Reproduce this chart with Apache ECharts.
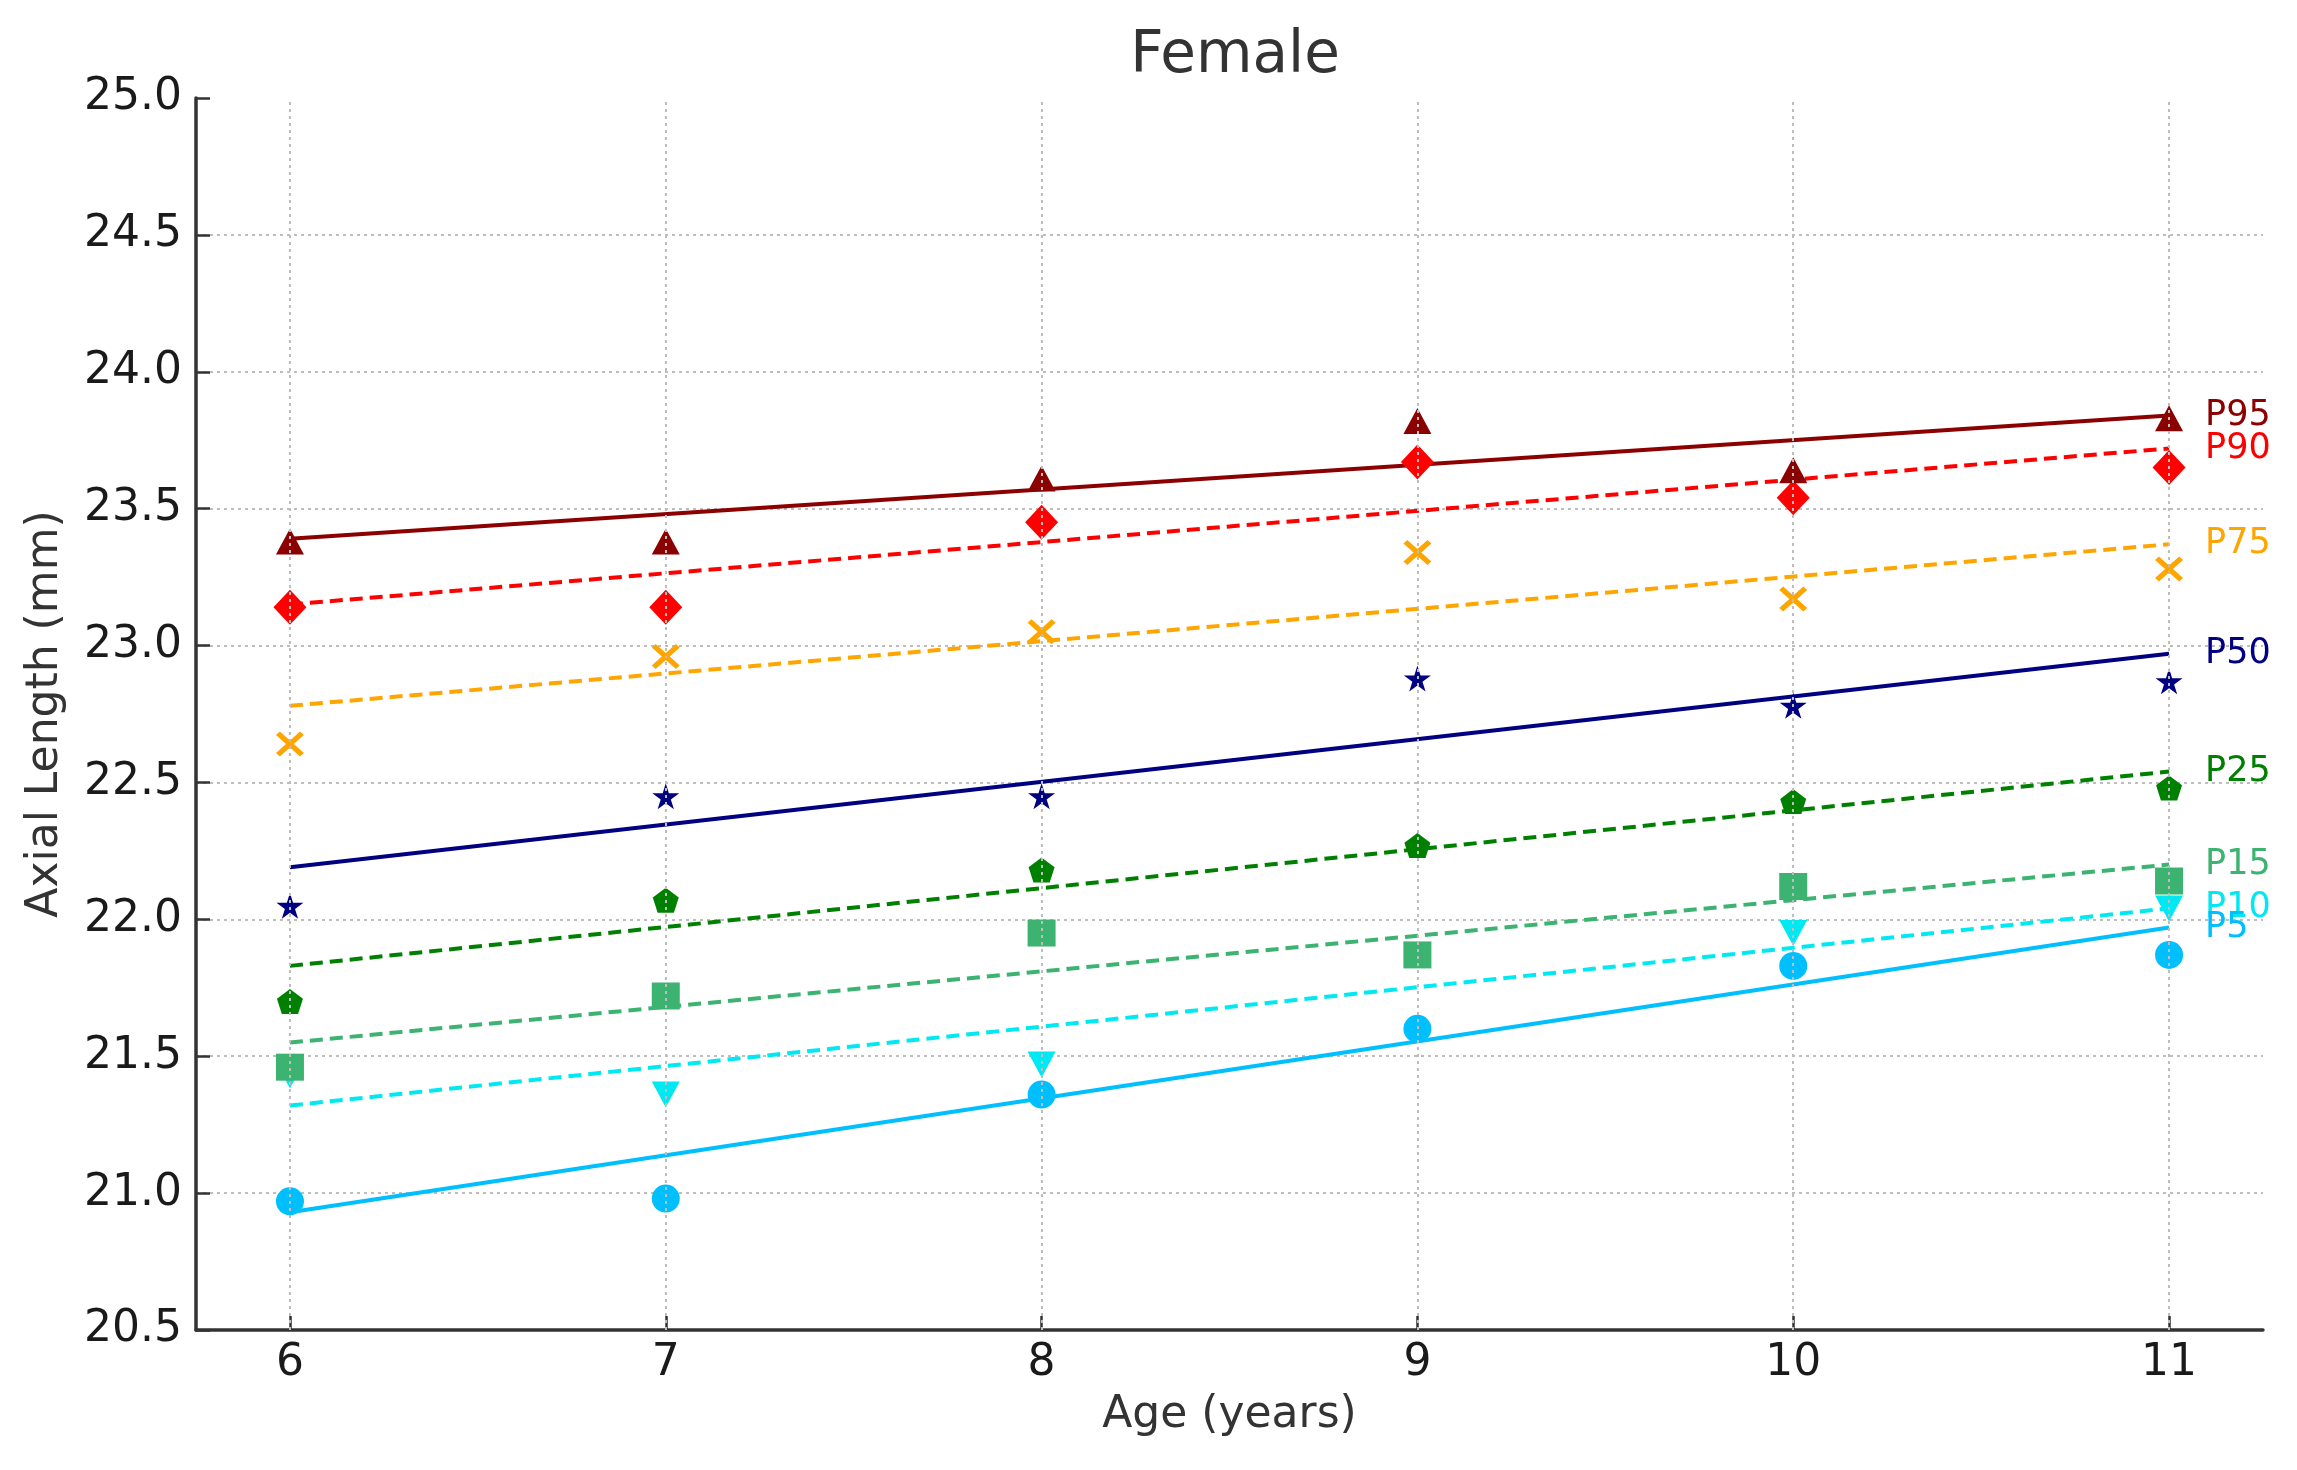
<!DOCTYPE html>
<html>
<head>
<meta charset="utf-8">
<script src="https://cdn.jsdelivr.net/npm/echarts@6/dist/echarts.min.js"></script>
<style>
html,body{margin:0;padding:0;background:#fff;}
#chart{width:2297px;height:1470px;}
</style>
</head>
<body>
<div id="chart"></div>
<script>
// ---- data ----
const ages = [6, 7, 8, 9, 10, 11];
const labels = ['P95', 'P90', 'P75', 'P50', 'P25', 'P15', 'P10', 'P5'];
const p95 = [23.38, 23.38, 23.61, 23.82, 23.64, 23.83];
const p90 = [23.14, 23.14, 23.45, 23.67, 23.54, 23.65];
const p75 = [22.64, 22.96, 23.05, 23.34, 23.17, 23.28];
const p50 = [22.05, 22.45, 22.45, 22.88, 22.78, 22.87];
const p25 = [21.70, 22.07, 22.18, 22.27, 22.43, 22.48];
const p15 = [21.46, 21.72, 21.95, 21.87, 22.12, 22.14];
const p10 = [21.43, 21.36, 21.47, 21.87, 21.95, 22.04];
const p5  = [20.97, 20.98, 21.36, 21.60, 21.83, 21.87];
// fitted trend lines: values at age 6 and age 11
const fitAges = [6, 11];
const fitP95 = [23.39, 23.84];
const fitP90 = [23.15, 23.72];
const fitP75 = [22.78, 23.37];
const fitP50 = [22.19, 22.97];
const fitP25 = [21.83, 22.54];
const fitP15 = [21.55, 22.20];
const fitP10 = [21.32, 22.04];
const fitP5  = [20.93, 21.97];

// ---- styles ----
const FONT = 'DejaVu Sans';
const styles = {
  P95: {color: '#8b0000', dash: 'solid', symbol: 'triangle', size: [28, 26]},
  P90: {color: '#ff0000', dash: [13, 7], symbol: 'diamond', size: [33, 35]},
  P75: {color: '#ffa500', dash: [13, 7], symbol: 'path://M0,1.4 L1.4,0 L5,3.6 L8.6,0 L10,1.4 L6.4,5 L10,8.6 L8.6,10 L5,6.4 L1.4,10 L0,8.6 L3.6,5 Z', size: [28, 25]},
  P50: {color: '#000080', dash: 'solid', symbol: 'path://M50,0 L61,35 L98,35 L68,57 L79,91 L50,70 L21,91 L32,57 L2,35 L39,35 Z', size: [27, 26]},
  P25: {color: '#008000', dash: [13, 7], symbol: 'path://M50,0 L98,36 L80,92 L20,92 L2,36 Z', size: [26, 25]},
  P15: {color: '#3cb371', dash: [13, 7], symbol: 'rect', size: [28, 27]},
  P10: {color: '#00e8f2', dash: [13, 7], symbol: 'path://M0,0 L100,0 L50,100 Z', size: [28, 26]},
  P5:  {color: '#00bfff', dash: 'solid', symbol: 'circle', size: [28, 28]}
};
const pts = {P95: p95, P90: p90, P75: p75, P50: p50, P25: p25, P15: p15, P10: p10, P5: p5};
const fits = {P95: fitP95, P90: fitP90, P75: fitP75, P50: fitP50, P25: fitP25, P15: fitP15, P10: fitP10, P5: fitP5};

const series = [];
// vertical grid lines at the age ticks
series.push({
  type: 'line', data: [], z: 1, silent: true,
  markLine: {
    silent: true, symbol: ['none', 'none'], label: {show: false},
    lineStyle: {color: '#bdbdbd', type: [3, 4], width: 2},
    emphasis: {disabled: true},
    data: ages.map(a => ({xAxis: a}))
  }
});
// fitted lines
labels.forEach(k => {
  const s = styles[k];
  series.push({
    name: k + ' fit', type: 'line', z: 3, showSymbol: false, symbol: 'none', silent: true,
    data: fitAges.map((a, i) => [a, fits[k][i]]),
    lineStyle: {color: s.color, width: 4, type: s.dash},
    endLabel: {show: true, formatter: k, color: s.color, fontSize: 35, fontFamily: FONT, distance: 36}
  });
});
// scatter points, drawn from P5 upward
labels.slice().reverse().forEach(k => {
  const s = styles[k];
  series.push({
    name: k, type: 'scatter', z: 4, silent: true,
    symbol: s.symbol, symbolSize: s.size,
    data: ages.map((a, i) => [a, pts[k][i]]),
    itemStyle: {color: s.color, opacity: 1}
  });
});

const chart = echarts.init(document.getElementById('chart'), null, {renderer: 'canvas'});
chart.setOption({
  backgroundColor: '#ffffff',
  animation: false,
  title: {
    text: 'Female', left: 1230, top: 23, textAlign: 'center',
    textStyle: {fontFamily: FONT, fontSize: 58, fontWeight: 'normal', color: '#333333', lineHeight: 58}
  },
  grid: {left: 196, right: 34, top: 98, bottom: 140, containLabel: false},
  xAxis: {
    type: 'value', min: 5.75, max: 11.25,
    name: 'Age (years)', nameLocation: 'middle', nameGap: 64,
    nameTextStyle: {fontFamily: FONT, fontSize: 44, color: '#333333'},
    axisLine: {show: true, lineStyle: {color: '#333333', width: 3.5}},
    axisTick: {show: true, inside: true, length: 14, customValues: ages, lineStyle: {color: '#333333', width: 2.5}},
    axisLabel: {customValues: ages, margin: 12, fontFamily: FONT, fontSize: 44, color: '#1a1a1a', formatter: v => String(v)},
    splitLine: {show: false}
  },
  yAxis: {
    type: 'value', min: 20.5, max: 25.0, interval: 0.5,
    name: 'Axial Length (mm)', nameLocation: 'middle', nameGap: 128,
    nameTextStyle: {fontFamily: FONT, fontSize: 44, color: '#333333'},
    axisLine: {show: true, lineStyle: {color: '#333333', width: 3.5}},
    axisTick: {show: true, inside: true, length: 14, lineStyle: {color: '#333333', width: 2.5}},
    axisLabel: {margin: 14, fontFamily: FONT, fontSize: 44, color: '#1a1a1a', formatter: v => v.toFixed(1)},
    splitLine: {show: true, showMaxLine: false, showMinLine: false, lineStyle: {color: '#bdbdbd', type: [3, 4], width: 2}}
  },
  series: series
});
</script>
</body>
</html>
